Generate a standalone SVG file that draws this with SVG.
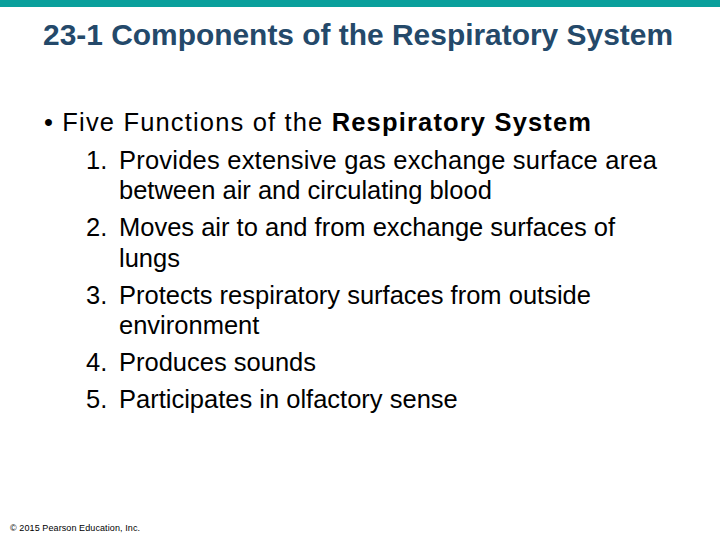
<svg xmlns="http://www.w3.org/2000/svg" width="720" height="540" viewBox="0 0 720 540">
<style>
.t{font-family:"Liberation Sans",Arial,sans-serif;fill:#000}
.b{font-size:25.5px}
</style>
<rect width="720" height="540" fill="#fff"/>
<rect width="720" height="7" fill="#0aa09c"/>
<text class="t" x="43" y="45" font-size="30" font-weight="bold" style="fill:#24496a" textLength="630" lengthAdjust="spacingAndGlyphs">23-1 Components of the Respiratory System</text>
<text class="t b" x="44" y="131" textLength="547">• Five Functions of the <tspan font-weight="bold">Respiratory System</tspan></text>
<g class="t b">
<text x="86" y="169">1.</text><text x="119" y="169" textLength="538">Provides extensive gas exchange surface area</text>
<text x="119" y="199">between air and circulating blood</text>
<text x="86" y="236">2.</text><text x="119" y="236">Moves air to and from exchange surfaces of</text>
<text x="119" y="267">lungs</text>
<text x="86" y="304">3.</text><text x="119" y="304">Protects respiratory surfaces from outside</text>
<text x="119" y="334">environment</text>
<text x="86" y="371">4.</text><text x="119" y="371">Produces sounds</text>
<text x="86" y="408">5.</text><text x="119" y="408">Participates in olfactory sense</text>
</g>
<text class="t" x="10" y="531" font-size="9" textLength="130">© 2015 Pearson Education, Inc.</text>
</svg>
